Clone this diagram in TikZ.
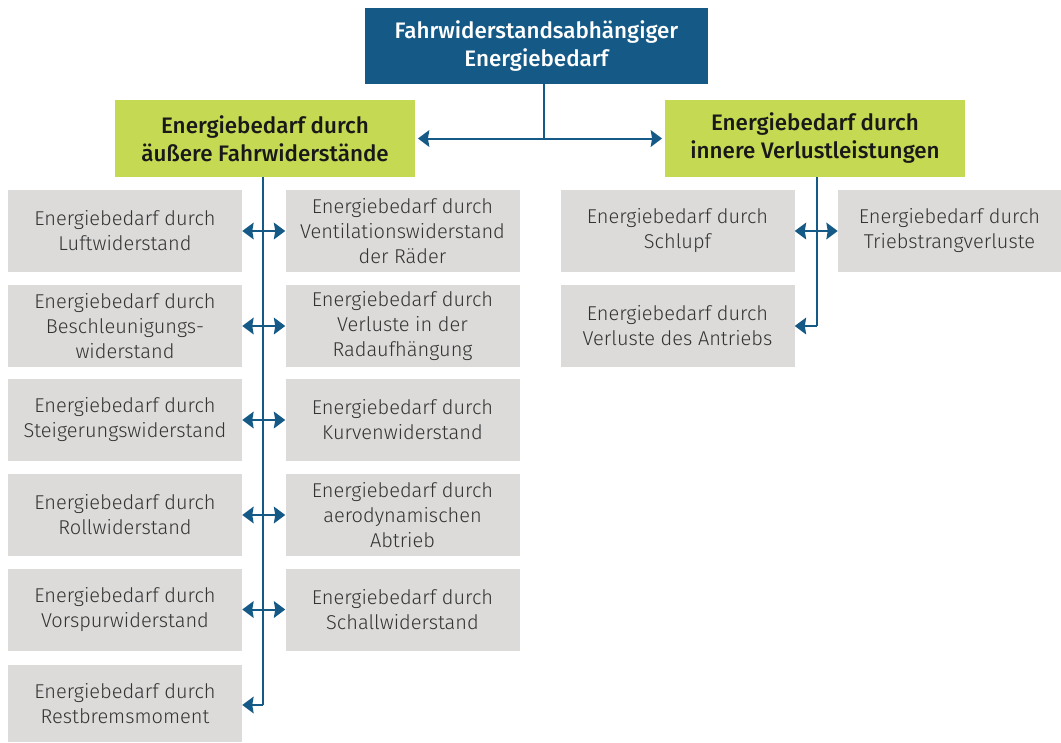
\documentclass[tikz,border=0pt]{standalone}
\usepackage{fontspec}
\setmainfont{Fira Sans}[UprightFont=* Light, BoldFont=* Medium]
\usetikzlibrary{arrows.meta}
\definecolor{dblue}{HTML}{155A87}
\definecolor{lgreen}{HTML}{C5D952}
\definecolor{lgray}{HTML}{DCDBDA}
\definecolor{tgray}{HTML}{333333}
\tikzset{
  topbox/.style={fill=dblue, text=white, font=\fontsize{16.8}{21}\selectfont\bfseries, align=center, inner sep=0pt, minimum width=343*0.75pt, minimum height=76*0.75pt},
  greenbox/.style={fill=lgreen, text=black!90, font=\fontsize{16.8}{21}\selectfont\bfseries, align=center, inner sep=0pt, minimum width=300*0.75pt, minimum height=77*0.75pt},
  graybox/.style={fill=lgray, text=tgray, font=\fontsize{15}{18.75}\selectfont, align=center, inner sep=0pt, minimum width=234*0.75pt, minimum height=82*0.75pt},
  tip/.tip={Stealth[length=8.5pt,width=12.5pt,inset=1pt]},
  conn/.style={draw=dblue, line width=1.5pt},
  biarrow/.style={conn, tip-tip},
  onearrow/.style={conn, -tip},
}
\begin{document}
\begin{tikzpicture}[x=0.75pt,y=-0.75pt]
\useasboundingbox (0,0) rectangle (1061,743);
\node[topbox] (top) at (536.5,46) {Fahrwiderstandsabhängiger\\Energiebedarf};
\node[greenbox] (ga) at (265,138.5) {Energiebedarf durch\\äußere Fahrwiderstände};
\node[greenbox] (gi) at (815,138.5) {Energiebedarf durch\\innere Verlustleistungen};
% left group
\node[graybox] (l1) at (125,231) {Energiebedarf durch\\Luftwiderstand};
\node[graybox] (r1) at (402.5,231) {Energiebedarf durch\\Ventilationswiderstand\\der Räder};
\node[graybox] (l2) at (125,326) {Energiebedarf durch\\Beschleunigungs-\\widerstand};
\node[graybox] (r2) at (402.5,326) {Energiebedarf durch\\Verluste in der\\Radaufhängung};
\node[graybox] (l3) at (125,420) {Energiebedarf durch\\Steigerungswiderstand};
\node[graybox] (r3) at (402.5,420) {Energiebedarf durch\\Kurvenwiderstand};
\node[graybox] (l4) at (125,515) {Energiebedarf durch\\Rollwiderstand};
\node[graybox] (r4) at (402.5,515) {Energiebedarf durch\\aerodynamischen\\Abtrieb};
\node[graybox] (l5) at (125,609.5) {Energiebedarf durch\\Vorspurwiderstand};
\node[graybox] (r5) at (402.5,609.5) {Energiebedarf durch\\Schallwiderstand};
\node[graybox, minimum height=77*0.75pt] (l6) at (125,703.5) {Energiebedarf durch\\Restbremsmoment};
% right group
\node[graybox] (s1) at (677.5,231) {Energiebedarf durch\\Schlupf};
\node[graybox, minimum width=223*0.75pt] (t1) at (949.5,231) {Energiebedarf durch\\Triebstrangverluste};
\node[graybox] (s2) at (677.5,326) {Energiebedarf durch\\Verluste des Antriebs};
% connectors top
\coordinate (tj) at (544,138);
\draw[conn] (top.south -| tj) -- (tj);
\draw[biarrow, shorten <=2pt, shorten >=2pt] (ga.east) -- (gi.west);
% left trunk
\coordinate (lx) at (263,705);
\draw[conn] (ga.south -| lx) -- (lx);
\draw[onearrow] (lx) -- (l6.east |- lx);
\foreach \i in {1,...,5}{
  \draw[biarrow] (l\i.east) -- (r\i.west);
}
% right trunk
\coordinate (rx) at (817,326);
\draw[conn] (gi.south -| rx) -- (rx);
\draw[onearrow] (rx) -- (s2.east);
\draw[biarrow] (s1.east) -- (t1.west);
\end{tikzpicture}
\end{document}
